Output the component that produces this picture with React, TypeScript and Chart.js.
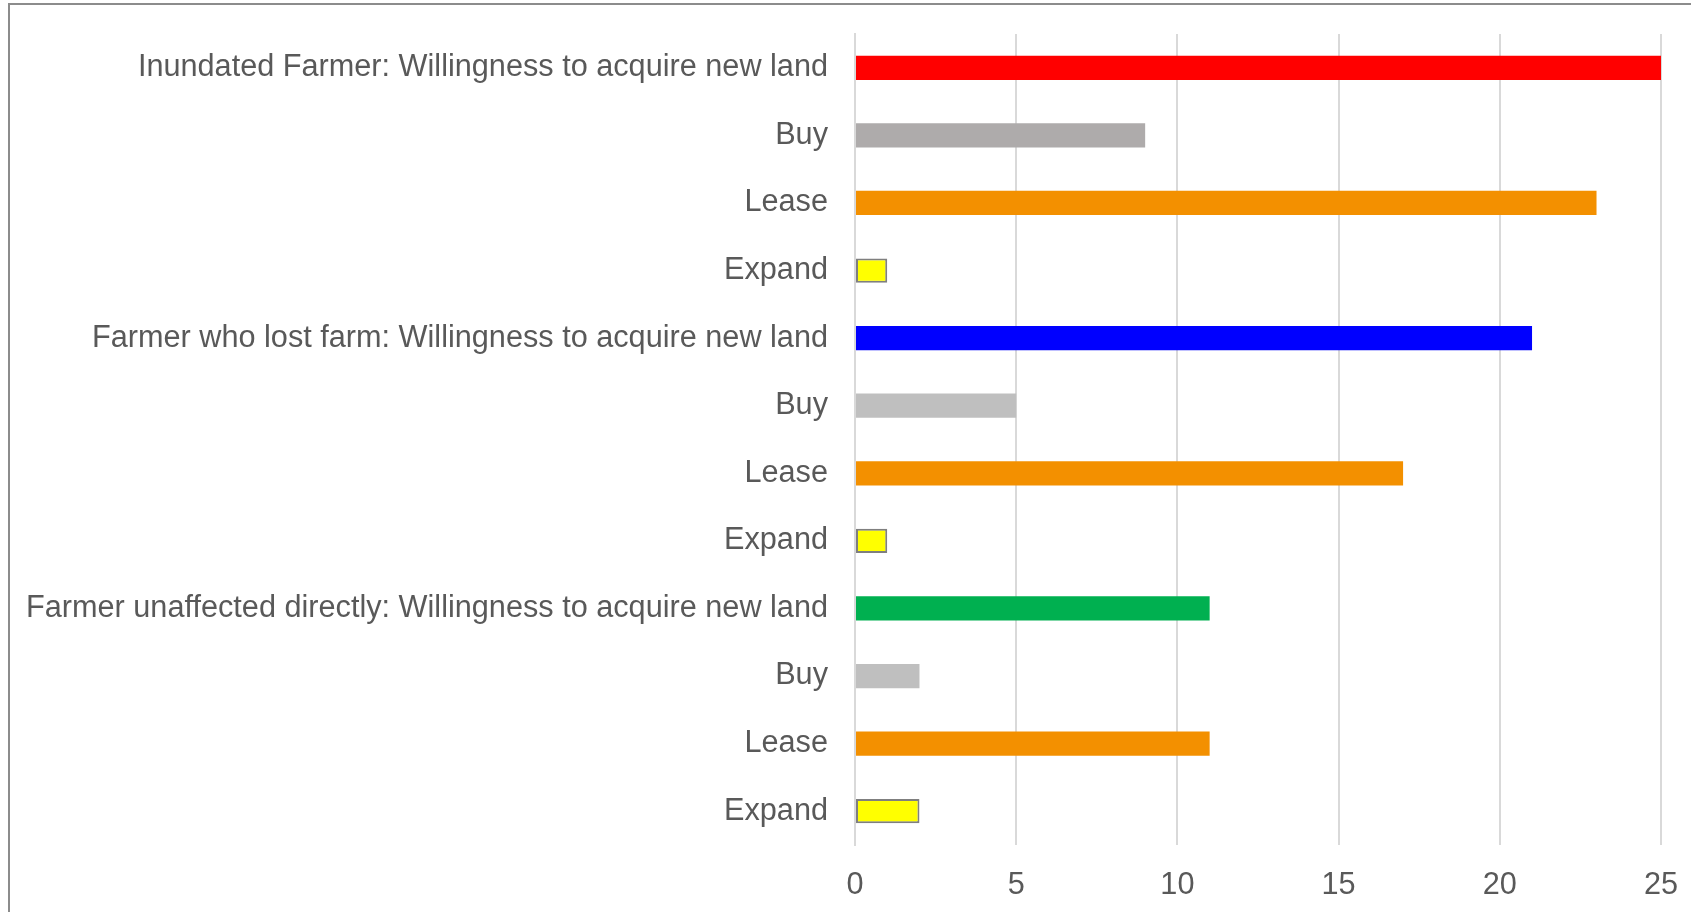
import React, { useEffect, useRef } from "react";
import { Chart, registerables } from "chart.js";

Chart.register(...registerables);

const categories: string[] = [
  "Inundated Farmer: Willingness to acquire new land",
  "Buy",
  "Lease",
  "Expand",
  "Farmer who lost farm: Willingness to acquire new land",
  "Buy",
  "Lease",
  "Expand",
  "Farmer unaffected directly: Willingness to acquire new land",
  "Buy",
  "Lease",
  "Expand",
];

const values: number[] = [25, 9, 23, 1, 21, 5, 17, 1, 11, 2, 11, 2];

const barColors: string[] = [
  "#FF0000",
  "#AEABAB",
  "#F39000",
  "#FFFF00",
  "#0000FF",
  "#BFBFBF",
  "#F39000",
  "#FFFF00",
  "#00B050",
  "#BFBFBF",
  "#F39000",
  "#FFFF00",
];

const barBorderColors: string[] = [
  "#FF0000",
  "#AEABAB",
  "#F39000",
  "#7F7F7F",
  "#0000FF",
  "#BFBFBF",
  "#F39000",
  "#7F7F7F",
  "#00B050",
  "#BFBFBF",
  "#F39000",
  "#7F7F7F",
];

const barBorderWidths: number[] = [0, 0, 0, 2, 0, 0, 0, 2, 0, 0, 0, 2];

const xTicks = { min: 0, max: 25, step: 5 };

const FONT = '"Liberation Sans", Arial, sans-serif';

const framePlugin = {
  id: "frame",
  beforeDraw(chart: any) {
    const ctx = chart.ctx;
    ctx.save();
    ctx.fillStyle = "#FFFFFF";
    ctx.fillRect(0, 0, chart.width, chart.height);
    ctx.strokeStyle = "#8C8C8C";
    ctx.lineWidth = 2;
    ctx.beginPath();
    ctx.moveTo(9, chart.height + 2);
    ctx.lineTo(9, 4);
    ctx.lineTo(chart.width + 2, 4);
    ctx.stroke();
    ctx.restore();
  },
};

const zeroPad = (scale: any) => {
  scale.paddingTop = 0;
  scale.paddingBottom = 0;
  scale.paddingLeft = 0;
  scale.paddingRight = 0;
};

export default function App() {
  const ref = useRef<HTMLCanvasElement | null>(null);

  useEffect(() => {
    document.body.style.margin = "0";
    const canvas = ref.current;
    if (!canvas) return;
    const chart = new Chart(canvas, {
      type: "bar",
      data: {
        labels: categories,
        datasets: [
          {
            data: values,
            backgroundColor: barColors,
            borderColor: barBorderColors,
            borderWidth: barBorderWidths,
            borderSkipped: false,
            categoryPercentage: 1,
            barPercentage: 0.36,
          },
        ],
      },
      options: {
        indexAxis: "y",
        responsive: false,
        animation: false,
        devicePixelRatio: 1,
        layout: { padding: { top: 34, right: 30, left: 0, bottom: 0 } },
        plugins: {
          legend: { display: false },
          tooltip: { enabled: false },
        },
        scales: {
          x: {
            min: xTicks.min,
            max: xTicks.max,
            afterFit: (scale: any) => {
              scale.height = 67;
              zeroPad(scale);
            },
            ticks: {
              stepSize: xTicks.step,
              color: "#595959",
              font: { family: FONT, size: 30.66 },
              padding: 22,
            },
            grid: {
              color: "#D9D9D9",
              lineWidth: 2,
              drawTicks: false,
            },
            border: { display: false },
          },
          y: {
            afterFit: (scale: any) => {
              scale.width = 855;
              zeroPad(scale);
            },
            ticks: {
              color: "#595959",
              font: { family: FONT, size: 30.66 },
              padding: 27,
              autoSkip: false,
            },
            grid: { display: false, drawTicks: false },
            border: { display: true, color: "#D9D9D9", width: 2 },
          },
        },
      },
      plugins: [framePlugin],
    });
    return () => chart.destroy();
  }, []);

  return (
    <canvas
      ref={ref}
      width={1691}
      height={912}
      style={{ display: "block", width: 1691, height: 912 }}
    />
  );
}
